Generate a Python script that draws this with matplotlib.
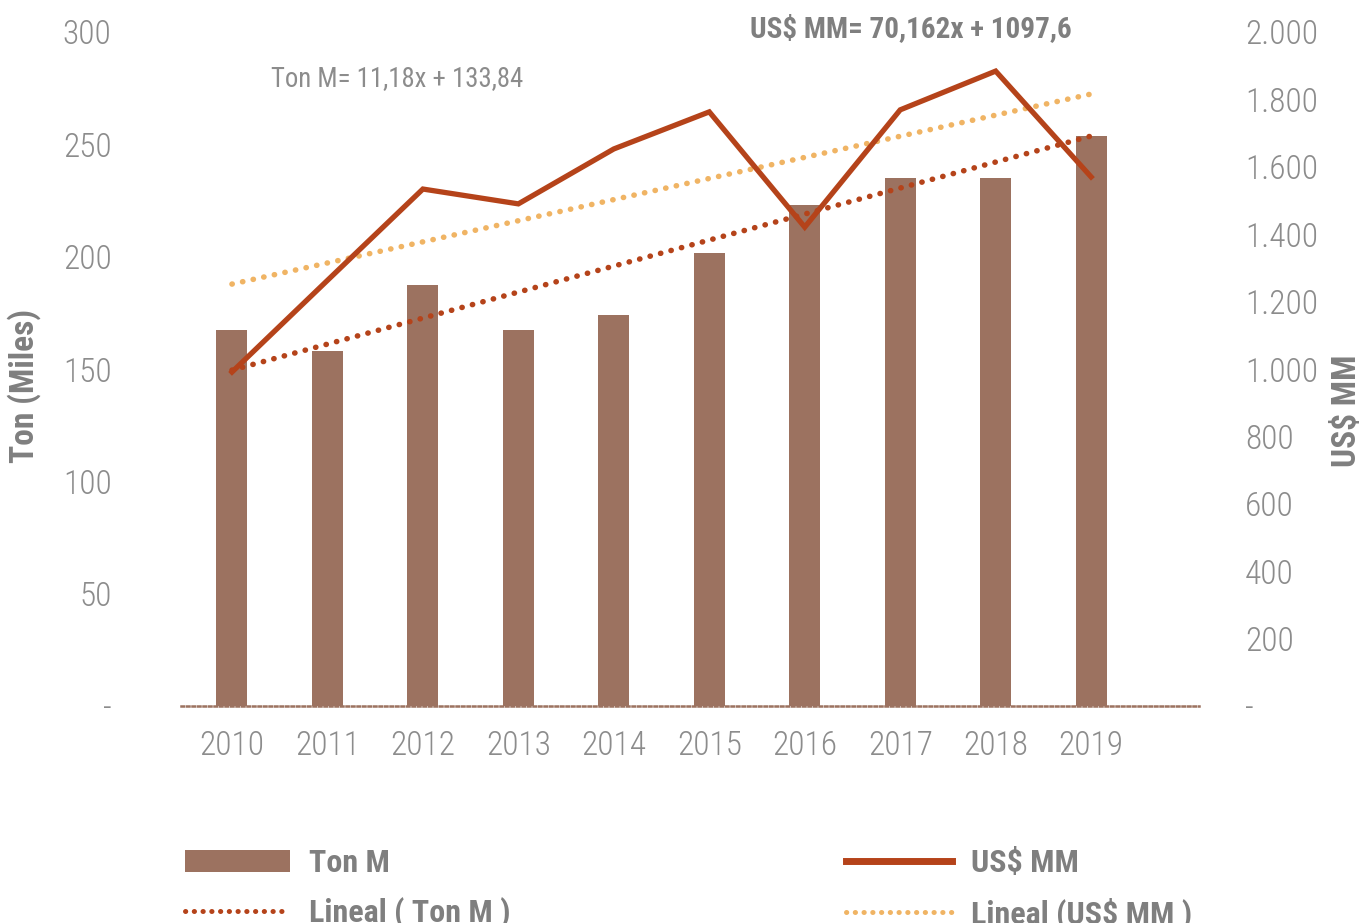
import matplotlib
matplotlib.use('Agg')
import matplotlib.pyplot as plt
from matplotlib import font_manager
from matplotlib.patches import Patch
from matplotlib.lines import Line2D

# data
years = ['2010', '2011', '2012', '2013', '2014', '2015', '2016', '2017', '2018', '2019']
ton_m = [167.3, 158.0, 187.4, 167.3, 174.0, 201.6, 223.0, 235.0, 235.0, 253.7]
usd_mm = [991, 1263, 1534, 1490, 1653, 1763, 1421, 1769, 1884, 1570]
# trend lines (first and last year)
ton_trend = [149.5, 253.7]
usd_trend = [1252, 1816]

left_ticks = [0, 50, 100, 150, 200, 250, 300]
left_labels = ['-', '50', '100', '150', '200', '250', '300']
right_ticks = [0, 200, 400, 600, 800, 1000, 1200, 1400, 1600, 1800, 2000]
right_labels = ['-', '200', '400', '600', '800', '1.000', '1.200', '1.400', '1.600', '1.800', '2.000']

# colours
bar_col = '#9c7260'
line_col = '#b5431a'
orange = '#f0b464'
grey = '#7f7f7f'
light_grey = '#8c8c8c'

# pick a narrow font if there is one
names = {f.name for f in font_manager.fontManager.ttflist}
fam = 'DejaVu Sans'
for cand in ['Liberation Sans Narrow', 'Roboto Condensed', 'Open Sans Condensed',
             'Open Sans', 'Lato', 'Liberation Sans']:
    if cand in names:
        fam = cand
        break
plt.rcParams['font.family'] = [fam, 'DejaVu Sans']

fig = plt.figure(figsize=(13.62, 9.23), dpi=100)
ax = fig.add_axes([181/1362, 1 - 706/923, (1199-181)/1362, (706-32)/923])
ax2 = ax.twinx()

x = list(range(len(years)))
dots = (0, (0.05, 1.9))
ax.bar(x, ton_m, width=0.325, color=bar_col, zorder=2)
ax.plot([x[0], x[-1]], ton_trend, color=line_col, lw=4.0,
        linestyle=dots, dash_capstyle='round', zorder=3)

ax2.plot([x[0], x[-1]], usd_trend, color=orange, lw=4.0,
         linestyle=dots, dash_capstyle='round', zorder=3)
ax2.plot(x, usd_mm, color=line_col, lw=3.8, solid_joinstyle='miter', zorder=4)

ax.set_xlim(-0.534, 10.13)
ax.set_ylim(0, 300)
ax2.set_ylim(0, 2000)

ax.set_xticks(x)
ax.set_xticklabels(years)
ax.set_yticks(left_ticks)
ax.set_yticklabels(left_labels)
ax2.set_yticks(right_ticks)
ax2.set_yticklabels(right_labels)

ax.tick_params(axis='x', length=0, pad=17, labelsize=24, labelcolor=light_grey)
ax.tick_params(axis='y', length=0, pad=50, labelsize=24, labelcolor=light_grey)
ax2.tick_params(axis='y', length=0, pad=33, labelsize=24, labelcolor=light_grey)
for t in ax.get_xticklabels() + ax.get_yticklabels() + ax2.get_yticklabels():
    t.set_fontweight('light')

for a in (ax, ax2):
    for s in ['top', 'left', 'right', 'bottom']:
        a.spines[s].set_visible(False)
ax.spines['bottom'].set_visible(True)
ax.spines['bottom'].set_color(bar_col)
ax.spines['bottom'].set_linewidth(1.8)
ax.spines['bottom'].set_linestyle((0, (1, 1.2)))

# axis titles
fig.text(24/1362, 1 - 386/923, 'Ton (Miles)', rotation=90, ha='center', va='center',
         fontsize=24, fontweight='bold', color=grey)
fig.text(1347/1362, 1 - 411/923, 'US$ MM', rotation=90, ha='center', va='center',
         fontsize=24, fontweight='bold', color=grey)

# trend equations
fig.text(397/1362, 1 - 79/923, 'Ton M= 11,18x + 133,84', ha='center', va='center',
         fontsize=19.3, color=light_grey)
fig.text(911/1362, 1 - 29/923, 'US$ MM= 70,162x + 1097,6', ha='center', va='center',
         fontsize=21, fontweight='bold', color=grey)

# legend
handles = [
    Patch(facecolor=bar_col),
    Line2D([], [], color=line_col, lw=3.6, linestyle=(0, (0.05, 1.7)), dash_capstyle='round'),
    Line2D([], [], color=line_col, lw=5),
    Line2D([], [], color=orange, lw=3.6, linestyle=(0, (0.05, 1.7)), dash_capstyle='round'),
]
labels = ['Ton M', 'Lineal ( Ton M )', 'US$ MM', 'Lineal (US$ MM )']
leg = fig.legend(handles, labels, ncol=2, loc='upper left',
                 bbox_to_anchor=(156/1362, 1 - 819/923), frameon=False,
                 prop={'size': 23, 'weight': 'bold'}, handlelength=3.3,
                 handleheight=0.68, handletextpad=0.6, columnspacing=10.5,
                 labelspacing=0.62)
for t in leg.get_texts():
    t.set_color(grey)

fig.savefig('out.png', dpi=100)
